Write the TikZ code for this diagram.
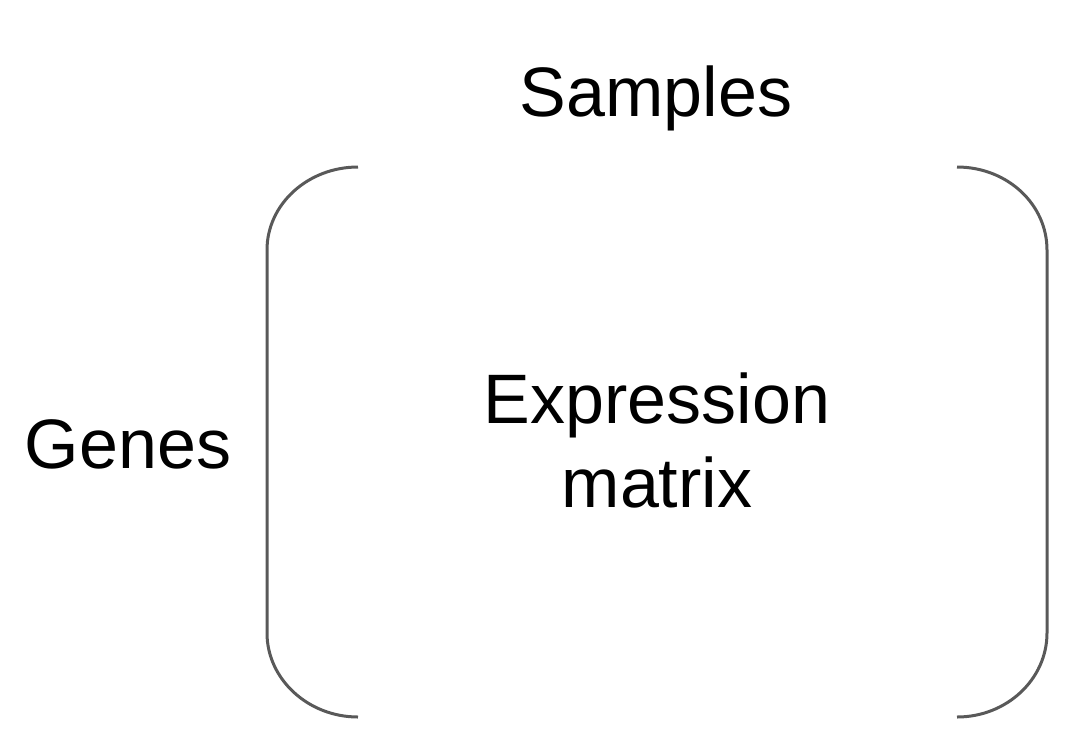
\documentclass[tikz,border=0pt]{standalone}
\usepackage{fontspec}
\setmainfont{Liberation Sans}
\definecolor{bgray}{HTML}{595959}
\begin{document}
\begin{tikzpicture}[x=1pt,y=-1pt,
  lbl/.style={font=\fontsize{70}{84}\selectfont, inner sep=0pt, align=center},
  brk/.style={draw=bgray, line width=3pt}]
\useasboundingbox (0,0) rectangle (1090,740);
\node[lbl, anchor=base] (samples) at (656,116) {Samples};
\node[lbl, anchor=base] (genes) at (128,468) {Genes};
\node[lbl] (expr) at (657,440) {Expression\\matrix};
% left bracket
\draw[brk] (358,167) .. controls (308,167) and (267,204) .. (267,250)
  -- (267,633) .. controls (267,679) and (308,717) .. (358,717);
% right bracket
\draw[brk] (957,167) .. controls (1007,167) and (1047,204) .. (1047,250)
  -- (1047,633) .. controls (1047,679) and (1007,717) .. (957,717);
\end{tikzpicture}
\end{document}
